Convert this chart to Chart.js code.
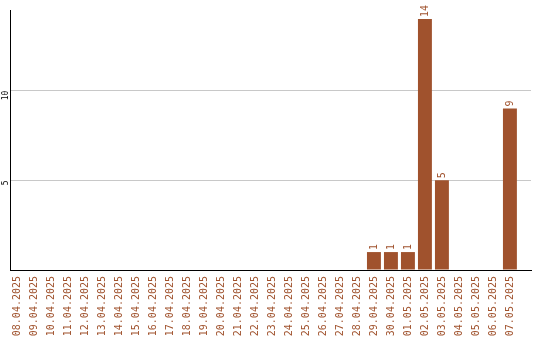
<!DOCTYPE html>
<html>
<head>
<meta charset="utf-8">
<script src="https://cdn.jsdelivr.net/npm/chart.js@4"></script>
<style>
  html, body { margin: 0; padding: 0; background: #fff; }
  #box { width: 540px; height: 340px; }
</style>
</head>
<body>
<div id="box"><canvas id="chart"></canvas></div>
<script>
// dates and counts
const dates = [
  '08.04.2025', '09.04.2025', '10.04.2025', '11.04.2025', '12.04.2025',
  '13.04.2025', '14.04.2025', '15.04.2025', '16.04.2025', '17.04.2025',
  '18.04.2025', '19.04.2025', '20.04.2025', '21.04.2025', '22.04.2025',
  '23.04.2025', '24.04.2025', '25.04.2025', '26.04.2025', '27.04.2025',
  '28.04.2025', '29.04.2025', '30.04.2025', '01.05.2025', '02.05.2025',
  '03.05.2025', '04.05.2025', '05.05.2025', '06.05.2025', '07.05.2025'
];
const counts = [
  0, 0, 0, 0, 0, 0, 0, 0, 0, 0,
  0, 0, 0, 0, 0, 0, 0, 0, 0, 0,
  0, 1, 1, 1, 14, 5, 0, 0, 0, 9
];
const yTicks = [5, 10];

const brown = '#a0522d';
Chart.defaults.font.family = "'DejaVu Sans Mono', monospace";

// value written above each bar, turned upright
const barValues = {
  id: 'barValues',
  afterDatasetsDraw(chart) {
    const ctx = chart.ctx;
    const meta = chart.getDatasetMeta(0);
    ctx.save();
    ctx.fillStyle = brown;
    ctx.font = "10px 'DejaVu Sans Mono'";
    ctx.textAlign = 'left';
    ctx.textBaseline = 'middle';
    meta.data.forEach((bar, i) => {
      if (!counts[i]) return;
      ctx.save();
      ctx.translate(bar.x, bar.y - 2);
      ctx.rotate(-Math.PI / 2);
      ctx.fillText(String(counts[i]), 0, 0);
      ctx.restore();
    });
    ctx.restore();
  }
};

new Chart(document.getElementById('chart'), {
  type: 'bar',
  data: {
    labels: dates,
    datasets: [{
      data: counts,
      backgroundColor: brown,
      categoryPercentage: 0.82,
      barPercentage: 1
    }]
  },
  options: {
    responsive: true,
    maintainAspectRatio: false,
    animation: false,
    layout: { padding: { top: 10, right: 9, left: 0, bottom: 0 } },
    plugins: { legend: { display: false }, tooltip: { enabled: false } },
    scales: {
      x: {
        grid: { display: false, drawTicks: false },
        border: { display: true, color: '#000', width: 1 },
        ticks: {
          color: brown,
          font: { size: 10 },
          minRotation: 90,
          maxRotation: 90,
          padding: 6,
          autoSkip: false
        },
        // 17px per day, bars hug the left of their slot, spare room at the end
        afterBuildTicks(s) {
          s._valueRange = dates.length + 0.65;
          s._startValue = -0.41;
        },
        afterFit(s) { s.height = 70; }
      },
      y: {
        min: 0,
        max: 14.5,
        grid: {
          drawTicks: false,
          color: c => (yTicks.includes(c.tick && c.tick.value) ? '#c8c8c8' : 'rgba(0,0,0,0)')
        },
        border: { display: true, color: '#000', width: 1 },
        ticks: {
          stepSize: 5,
          includeBounds: false,
          color: '#000',
          font: { size: 8 },
          minRotation: 90,
          maxRotation: 90,
          padding: 4,
          callback: v => (yTicks.includes(v) ? String(v) : '')
        },
        afterFit(s) { s.width = 10; }
      }
    }
  },
  plugins: [barValues]
});
</script>
</body>
</html>
